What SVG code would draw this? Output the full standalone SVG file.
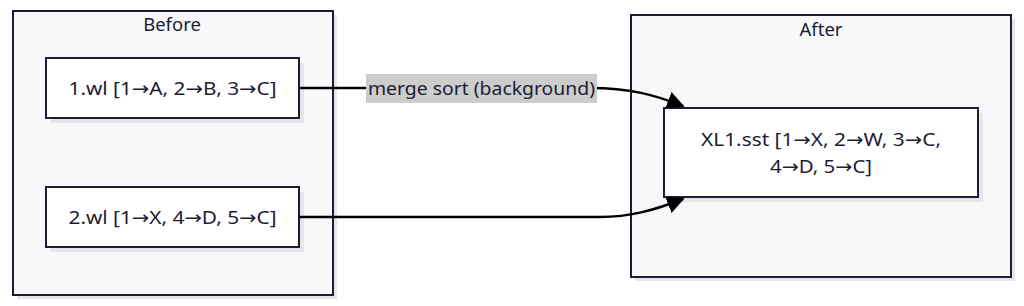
<svg xmlns="http://www.w3.org/2000/svg" width="1024" height="306" viewBox="0 0 1024 306">
<defs>
<style>
text{font-family:"Noto Sans","DejaVu Sans",sans-serif;font-size:18.5px;fill:#1c1c32;text-anchor:middle}
.cl{fill:#f8f8fb;stroke:#1c1c32;stroke-width:2}
.nd{fill:#ffffff;stroke:#1c1c32;stroke-width:2}
.sh{fill:#e6e6ea}
.ed{fill:none;stroke:#000;stroke-width:2.5}
</style>
<marker id="ah" viewBox="0 0 10 10" refX="9" refY="5" markerWidth="7" markerHeight="7" markerUnits="strokeWidth" orient="auto">
<path d="M0,0 L10,5 L0,10 z" fill="#000"/>
</marker>
</defs>
<g id="cluster-before">
<rect class="sh" x="17" y="15" width="320" height="284"/>
<rect class="cl" x="13" y="11" width="320" height="284"/>
<text x="172" y="31">Before</text>
</g>
<g id="cluster-after">
<rect class="sh" x="635" y="19" width="380" height="262"/>
<rect class="cl" x="631" y="15" width="380" height="262"/>
<text x="821" y="36">After</text>
</g>
<g id="node-1wl">
<rect class="sh" x="51" y="63" width="253" height="60"/>
<rect class="nd" x="46" y="58" width="253" height="60"/>
<text x="172.5" y="94.5" textLength="208" lengthAdjust="spacingAndGlyphs">1.wl [1→A, 2→B, 3→C]</text>
</g>
<g id="node-2wl">
<rect class="sh" x="51" y="192" width="253" height="60"/>
<rect class="nd" x="46" y="187" width="253" height="60"/>
<text x="172.5" y="223.5" textLength="208" lengthAdjust="spacingAndGlyphs">2.wl [1→X, 4→D, 5→C]</text>
</g>
<g id="node-xl1">
<rect class="sh" x="669" y="113" width="314" height="89"/>
<rect class="nd" x="664" y="108" width="314" height="89"/>
<text x="821" y="146" textLength="240" lengthAdjust="spacingAndGlyphs">XL1.sst [1→X, 2→W, 3→C,</text>
<text x="821" y="173" textLength="102" lengthAdjust="spacingAndGlyphs">4→D, 5→C]</text>
</g>
<g id="connectors">
<path class="ed" d="M299,88 H590 C630,88 655,95 683,106" marker-end="url(#ah)"/>
<path class="ed" d="M299,217 H600 C630,217 655,210 683,199" marker-end="url(#ah)"/>
</g>
<g id="edge-label">
<rect x="366" y="74" width="231" height="29" fill="#cccccc"/>
<text x="481.5" y="95" textLength="227" lengthAdjust="spacingAndGlyphs">merge sort (background)</text>
</g>
</svg>
